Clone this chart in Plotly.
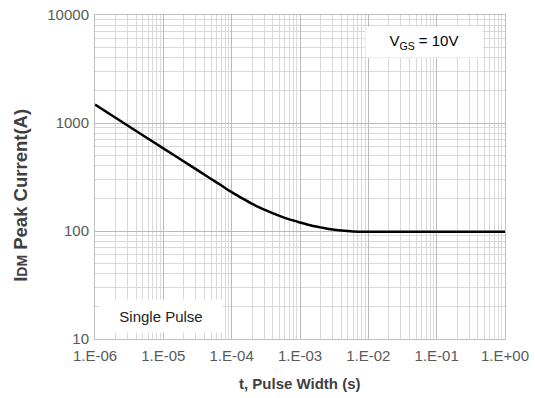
import plotly.graph_objects as go

# Data
pulse_width_s = [1e-6, 2e-6, 5e-6, 1e-5, 2e-5, 3.5e-5, 5e-5, 7e-5, 1e-4, 1.5e-4,
                 2e-4, 3e-4, 5e-4, 7e-4, 1e-3, 1.5e-3, 2e-3, 3e-3, 4e-3, 6e-3,
                 1e-2, 1e-1, 1e0]
peak_current_a = [1479, 1117, 771, 582, 440, 351, 303, 265, 229, 197,
                  178, 157.5, 138, 128, 120, 112, 108, 103, 101, 99.2,
                  98.5, 98.5, 98.5]

x_tickvals = [1e-6, 1e-5, 1e-4, 1e-3, 1e-2, 1e-1, 1e0]
x_ticktext = ["1.E-06", "1.E-05", "1.E-04", "1.E-03", "1.E-02", "1.E-01", "1.E+00"]
y_tickvals = [10, 100, 1000, 10000]
y_ticktext = ["10", "100", "1000", "10000"]

x_minor = [m * 10.0 ** e for e in range(-6, 0) for m in range(2, 10)]
y_minor = [m * 10.0 ** e for e in range(1, 4) for m in range(2, 10)]

fig = go.Figure()
fig.add_trace(go.Scatter(
    x=pulse_width_s, y=peak_current_a, mode="lines",
    line=dict(color="black", width=2.5, shape="spline", smoothing=0.8),
    showlegend=False, hoverinfo="skip"))

FONT = "Liberation Sans, Arial, sans-serif"
tick_font = dict(family=FONT, size=15, color="#595959")

common = dict(
    showgrid=True, gridcolor="#bababa", gridwidth=1.3,
    showline=True, linecolor="#bfbfbf", linewidth=1, mirror=True,
    ticks="", zeroline=False, automargin=False, tickfont=tick_font)

fig.update_xaxes(
    type="log", range=[-6, 0], tickvals=x_tickvals, ticktext=x_ticktext,
    ticklabelstandoff=3,
    minor=dict(tickvals=x_minor, showgrid=True, gridcolor="#d9d9d9", gridwidth=1, ticks=""),
    **common)
fig.update_yaxes(
    type="log", range=[1, 4], tickvals=y_tickvals, ticktext=y_ticktext,
    ticklabelstandoff=2,
    minor=dict(tickvals=y_minor, showgrid=True, gridcolor="#d9d9d9", gridwidth=1, ticks=""),
    **common)

# Axis titles
fig.add_annotation(
    xref="paper", yref="paper", x=0.5, y=-0.136, xanchor="center", yanchor="middle",
    text="<b>t, Pulse Width (s)</b>", showarrow=False,
    font=dict(family=FONT, size=15, color="#404040"))
fig.add_annotation(
    xref="paper", yref="paper", x=-0.1805, y=0.445, xanchor="center", yanchor="middle",
    textangle=-90,
    text="<b>I<span style='font-size:14px'>DM</span> Peak Current(A)</b>", showarrow=False,
    font=dict(family=FONT, size=18.5, color="#404040"))

# Text boxes
fig.add_annotation(
    xref="paper", yref="paper", x=0.802, y=0.917, xanchor="center", yanchor="middle",
    text="V<sub>GS</sub> = 10V", showarrow=False,
    font=dict(family=FONT, size=15, color="black"),
    bgcolor="white", width=116, height=30, borderpad=0)
fig.add_annotation(
    xref="paper", yref="paper", x=0.161, y=0.071, xanchor="center", yanchor="middle",
    text="Single Pulse", showarrow=False,
    font=dict(family=FONT, size=15, color="#222222"),
    bgcolor="white", width=122, height=32, borderpad=0)

fig.update_layout(
    width=535, height=398,
    margin=dict(l=95, r=30, t=15, b=59),
    paper_bgcolor="white", plot_bgcolor="white")

fig.write_html("out.html", config={"displayModeBar": False},
               post_script="document.body.style.margin='0';document.body.style.padding='0';")
